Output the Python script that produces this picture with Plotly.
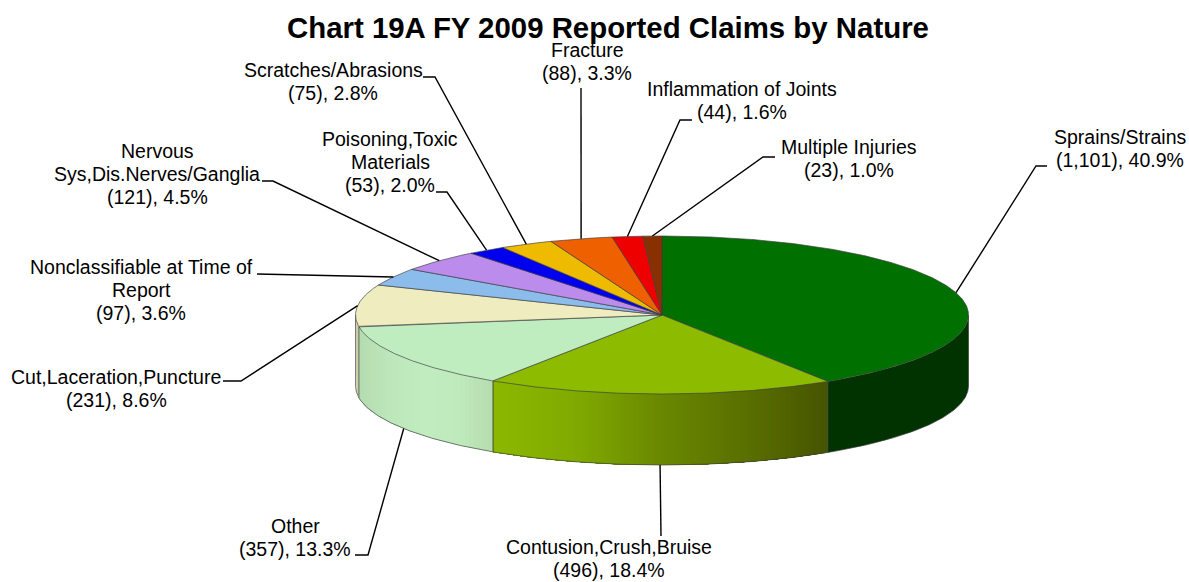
import math
import plotly.graph_objects as go

categories = ["Sprains/Strains", "Contusion,Crush,Bruise", "Other", "Cut,Laceration,Puncture",
              "Nonclassifiable at Time of<br>Report", "Nervous<br>Sys,Dis.Nerves/Ganglia",
              "Poisoning,Toxic<br>Materials", "Scratches/Abrasions", "Fracture",
              "Inflammation of Joints", "Multiple Injuries"]
claims = ["1,101", "496", "357", "231", "97", "121", "53", "75", "88", "44", "23"]
percents = [40.9, 18.4, 13.3, 8.6, 3.6, 4.5, 2.0, 2.8, 3.3, 1.6, 1.0]

top_colors = ["#007000", "#8cbb00", "#bfedc0", "#efecc0", "#8cbcec", "#bb8cec",
              "#0000ee", "#eebb00", "#ee6000", "#ee0000", "#883000"]
# side-wall gradient stops, from the wall's left end to its right end
side_stops = {0: ["#003300", "#003300"],
              1: ["#8cb800", "#80aa00", "#6a8800", "#5a7000", "#465400"],
              2: ["#b4dcb0", "#bee8bc", "#c0ecc0", "#bfeabc", "#b5dcae"],
              3: ["#cfc9a8", "#d8d2b0"]}

# layout of the projected pie, in page pixels
CX, CY, RX, RY, DEPTH = 662, 315, 306.5, 79, 71
LINE_PITCH = 23
# label centres and leader bends, in page pixels
label_pos = [(1120, 148), (609, 558), (295, 537), (116, 388), (141, 290), (157, 174),
             (390, 162), (333, 81), (587, 61), (742, 100), (849, 158)]
bends = [[(1036, 166), (1047, 166)], [(661, 536)], [(368, 555), (355, 555)], [(241, 381), (223, 381)],
         [(257, 274)], [(273, 181), (262, 181)], [(447, 192), (436, 192)], [(435, 77), (423, 77)],
         [(581, 88)], [(680, 120), (692, 120)], [(763, 157), (775, 157)]]
on_side = {1, 2}


def pt(pct, dy=0):
    a = math.radians(pct * 3.6)
    return CX + RX * math.sin(a), CY - RY * math.cos(a) + dy


def arc(p0, p1, dy=0, step=0.1):
    n = max(2, int(abs(p1 - p0) / step) + 1)
    return [pt(p0 + (p1 - p0) * i / (n - 1), dy) for i in range(n)]


def mix(stops, t):
    t = min(max(t, 0), 1) * (len(stops) - 1)
    i = min(int(t), len(stops) - 2)
    f = t - i
    a, b = stops[i], stops[i + 1]
    rgb = [round(int(a[k:k + 2], 16) * (1 - f) + int(b[k:k + 2], 16) * f) for k in (1, 3, 5)]
    return "rgb(%d,%d,%d)" % tuple(rgb)


def poly(points, **kw):
    return go.Scatter(x=[p[0] for p in points], y=[p[1] for p in points], hoverinfo="skip",
                      showlegend=False, **kw)


EDGE = "rgba(60,60,60,0.65)"
fig = go.Figure()

bounds = [0]
for p in percents:
    bounds.append(bounds[-1] + p)

# side walls (only the front half, 25%..75%), back to front
for order in (3, 0, 1, 2):
    lo, hi = max(bounds[order], 25), min(bounds[order + 1], 75)
    if hi <= lo:
        continue
    x_lo, x_hi = sorted((pt(lo)[0], pt(hi)[0]))
    flat = len(set(side_stops[order])) == 1
    n = 1 if flat else max(1, int((x_hi - x_lo) / 3))
    # each strip runs to the wall's far end so the next one paints over it: no seams
    for i in range(n):
        a = lo + (hi - lo) * i / n
        b = lo + (hi - lo) * (i + 1) / n
        mid_x = pt((a + b) / 2)[0]
        c = mix(side_stops[order], (mid_x - x_lo) / (x_hi - x_lo))
        pts = arc(a, hi) + arc(hi, a, DEPTH)
        fig.add_trace(poly(pts + pts[:1], mode="lines", fill="toself", fillcolor=c,
                           line=dict(width=0)))
    # wall outline
    fig.add_trace(poly(arc(lo, hi, DEPTH), mode="lines", line=dict(color=EDGE, width=1)))
    for e in (lo, hi):
        if 25 < e < 75:
            fig.add_trace(poly([pt(e), pt(e, DEPTH)], mode="lines", line=dict(color=EDGE, width=1)))

# left and right silhouette of the wall
for e in (25, 75):
    fig.add_trace(poly([pt(e), pt(e, DEPTH)], mode="lines", line=dict(color=EDGE, width=1)))

# top faces
for i, col in enumerate(top_colors):
    pts = [(CX, CY)] + arc(bounds[i], bounds[i + 1]) + [(CX, CY)]
    fig.add_trace(poly(pts, mode="lines", fill="toself", fillcolor=col,
                       line=dict(color=EDGE, width=1)))

# leaders and labels
annotations = []
for i, cat in enumerate(categories):
    mid = bounds[i] + percents[i] / 2
    start = pt(mid, DEPTH if i in on_side else 0)
    fig.add_trace(poly([start] + bends[i], mode="lines", line=dict(color="black", width=1.4)))
    lines = cat.split("<br>") + ["(%s), %.1f%%" % (claims[i], percents[i])]
    for k, line in enumerate(lines):
        annotations.append(dict(x=label_pos[i][0],
                                y=label_pos[i][1] + (k - (len(lines) - 1) / 2) * LINE_PITCH,
                                xref="x", yref="y", text=line,
                                showarrow=False, align="center", xanchor="center", yanchor="middle",
                                font=dict(family="Liberation Sans", size=19.5, color="black")))
annotations.append(dict(x=608, y=27, xref="x", yref="y", showarrow=False,
                        text="<b>Chart 19A FY 2009 Reported Claims by Nature</b>",
                        xanchor="center", yanchor="middle",
                        font=dict(family="Liberation Sans", size=29.4, color="black")))

fig.update_layout(width=1189, height=582, margin=dict(l=0, r=0, t=0, b=0),
                  paper_bgcolor="white", plot_bgcolor="white", annotations=annotations,
                  showlegend=False,
                  xaxis=dict(range=[0, 1189], visible=False, fixedrange=True),
                  yaxis=dict(range=[582, 0], visible=False, fixedrange=True))
fig.write_html("out.html", config={"displayModeBar": False},
               post_script="document.body.style.margin='0';document.body.style.overflow='hidden';")
